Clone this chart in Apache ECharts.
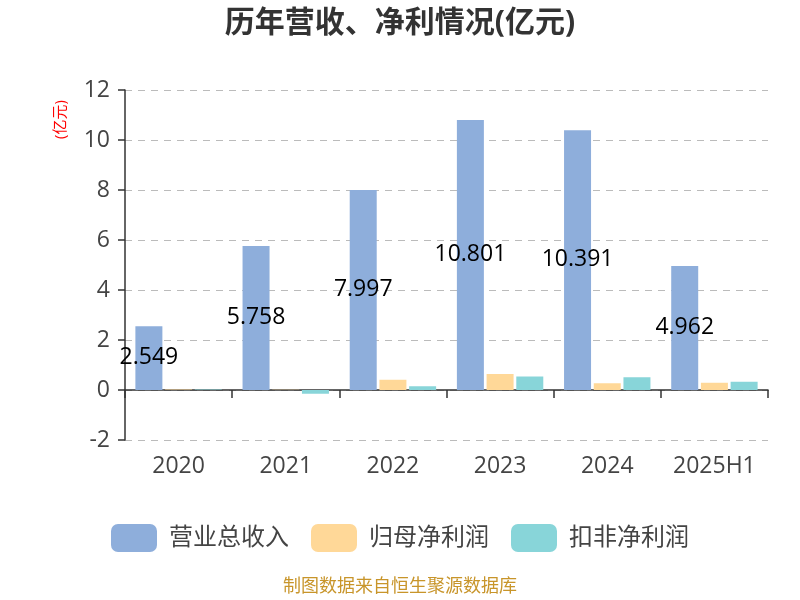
<!DOCTYPE html>
<html><head><meta charset="utf-8">
<script src="https://cdn.jsdelivr.net/npm/echarts@6/dist/echarts.min.js"></script>
<style>html,body{margin:0;padding:0;background:#fff}#c{width:800px;height:600px}</style>
</head><body><div id="c"></div>
<script>
var categories = ['2020','2021','2022','2023','2024','2025H1'];
var revenue = [2.549, 5.758, 7.997, 10.801, 10.391, 4.962];
var netProfit = [0.02, 0.01, 0.41, 0.64, 0.27, 0.29];
var deductedProfit = [0.02, -0.15, 0.15, 0.54, 0.51, 0.33];
var seriesNames = ['营业总收入','归母净利润','扣非净利润'];
var yTicks = {min: -2, max: 12, interval: 2};

var chart = echarts.init(document.getElementById('c'));
var font = '"Open Sans","Noto Sans CJK SC",sans-serif';
chart.setOption({
  animation: false,
  textStyle: {fontFamily: font},
  title: {text: '历年营收、净利情况(亿元)', left: 'center', top: 3,
    textStyle: {fontSize: 30, fontWeight: 'bold', color: '#333', fontFamily: font}},
  legend: {top: 519, itemWidth: 46, itemHeight: 28, itemGap: 22, icon: 'roundRect',
    textStyle: {fontSize: 24, color: '#444', fontFamily: font, padding: [0, 0, 0, 7]},
    data: seriesNames},
  graphic: [
    {type: 'text', left: 'center', top: 578, style: {text: '制图数据来自恒生聚源数据库', fill: '#c8952a', fontSize: 18, fontFamily: font}},
    {type: 'text', x: 53, y: 139, rotation: Math.PI/2, style: {text: '(亿元)', fill: '#ff0000', fontSize: 15, fontFamily: font}}
  ],
  grid: {left: 125, right: 32, top: 90, bottom: 160},
  xAxis: {type: 'category', data: categories,
    axisLine: {lineStyle: {color: '#333', width: 1.5}},
    axisTick: {show: true, length: 8, interval: 0, lineStyle: {color: '#333', width: 1.5}},
    axisLabel: {fontSize: 23, color: '#444', margin: 15, interval: 0, hideOverlap: false, fontFamily: font}},
  yAxis: {type: 'value', min: yTicks.min, max: yTicks.max, interval: yTicks.interval,
    axisLine: {show: true, lineStyle: {color: '#333', width: 1.5}},
    axisTick: {show: true, length: 7, lineStyle: {color: '#333', width: 1.5}},
    axisLabel: {fontSize: 23, color: '#444', margin: 15, fontFamily: font},
    splitLine: {lineStyle: {type: [7, 6], color: '#bbb', width: 1}}},
  series: [
    {name: seriesNames[0], type: 'bar', data: revenue, barWidth: 27, barGap: '10%',
      itemStyle: {color: '#8eaedb'},
      label: {show: true, position: 'inside', color: '#000', fontSize: 23, fontFamily: font, offset: [0, -1]}},
    {name: seriesNames[1], type: 'bar', data: netProfit, barWidth: 27, barGap: '10%',
      itemStyle: {color: '#ffd898'}},
    {name: seriesNames[2], type: 'bar', data: deductedProfit, barWidth: 27, barGap: '10%',
      itemStyle: {color: '#88d5d9'}}
  ]
});
</script></body></html>
